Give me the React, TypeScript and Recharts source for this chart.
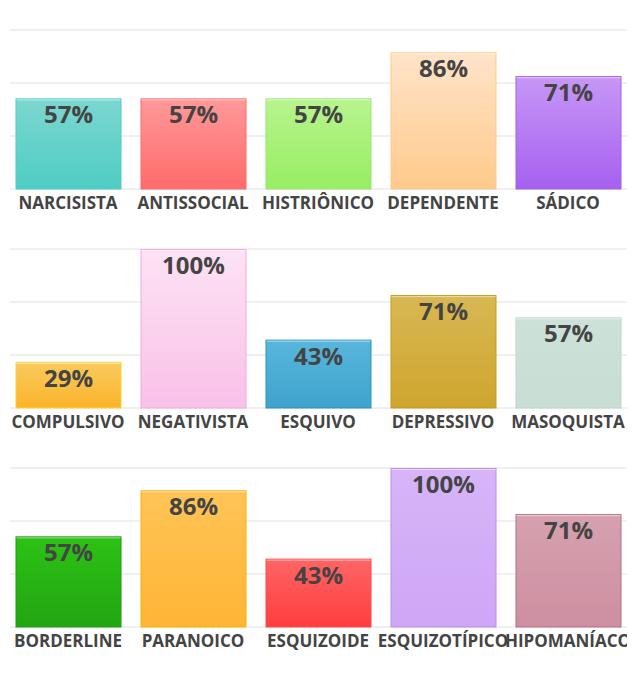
import { BarChart, Bar, XAxis, YAxis, CartesianGrid, LabelList } from "recharts";

// três blocos de transtornos, valores em %
const row1Names = ["NARCISISTA", "ANTISSOCIAL", "HISTRIÔNICO", "DEPENDENTE", "SÁDICO"];
const row1Values = [57, 57, 57, 86, 71];

const row2Names = ["COMPULSIVO", "NEGATIVISTA", "ESQUIVO", "DEPRESSIVO", "MASOQUISTA"];
const row2Values = [29, 100, 43, 71, 57];

const row3Names = ["BORDERLINE", "PARANOICO", "ESQUIZOIDE", "ESQUIZOTÍPICO", "HIPOMANÍACO"];
const row3Values = [57, 86, 43, 100, 71];

const yTicks = [0, 33.33, 66.67, 100];

// [topo, base, borda]
const row1Colors = [
  ["#7cd7d0", "#4ecdc4", "#4ecdc4"],
  ["#ff9898", "#ff6b6b", "#ff6b6b"],
  ["#b8f48e", "#97ee62", "#96e86a"],
  ["#ffe4c9", "#ffca8c", "#ffc98a"],
  ["#c797f6", "#a660f0", "#a55eea"],
];
const row2Colors = [
  ["#f9cb5e", "#fbb32b", "#fed330"],
  ["#fde2f4", "#f9c1e8", "#f7a8dc"],
  ["#58b6dc", "#3fa3cc", "#2a93c5"],
  ["#d8b853", "#cfa52e", "#c89b14"],
  ["#cce2d9", "#c8ddd4", "#b9d8c9"],
];
const row3Colors = [
  ["#2cc214", "#22a512", "#1f9c10"],
  ["#ffc457", "#ffb534", "#ffb000"],
  ["#ff6565", "#ff3d3d", "#ff4a4a"],
  ["#d7b5f8", "#cea6f6", "#c18af0"],
  ["#d6a1af", "#cd8fa1", "#b86d85"],
];

const FONT = "'Open Sans', sans-serif";

function PctLabel(props: any) {
  const { x, y, width, value } = props;
  return (
    <text
      x={x + width / 2}
      y={y + 25}
      textAnchor="middle"
      fill="#444444"
      fontFamily={FONT}
      fontWeight="bold"
      fontSize={24}
    >
      {value}%
    </text>
  );
}

function Row({ id, names, values, colors }: { id: string; names: string[]; values: number[]; colors: string[][] }) {
  const data = names.map((name, i) => ({ name, value: values[i] }));

  const shape = (p: any) => {
    const c = colors[p.index];
    return (
      <g>
        <rect
          x={p.x + 0.5}
          y={p.y + 0.5}
          width={p.width - 1}
          height={p.height - 0.5}
          fill={`url(#${id}-g${p.index})`}
          stroke={c[2]}
          strokeWidth={1}
        />
        <line
          x1={p.x + 1}
          x2={p.x + p.width - 1}
          y1={p.y + 1.5}
          y2={p.y + 1.5}
          stroke="#ffffff"
          strokeOpacity={0.55}
        />
      </g>
    );
  };

  return (
    <BarChart
      width={635}
      height={219}
      data={data}
      margin={{ top: 22, right: 8, bottom: 8, left: 10 }}
    >
      <defs>
        {colors.map((c, i) => (
          <linearGradient key={i} id={`${id}-g${i}`} x1="0" y1="0" x2="0" y2="1">
            <stop offset="0%" stopColor={c[0]} />
            <stop offset="100%" stopColor={c[1]} />
          </linearGradient>
        ))}
      </defs>
      <CartesianGrid vertical={false} stroke="#ebebeb" strokeWidth={1.5} />
      <XAxis
        dataKey="name"
        interval={0}
        axisLine={false}
        tickLine={false}
        height={30}
        padding={{ left: -4.5, right: -3.5 }}
        tick={{ fill: "#444444", fontSize: 17, fontWeight: "bold", fontFamily: FONT }}
      />
      <YAxis hide domain={[0, 100]} ticks={yTicks} />
      <Bar dataKey="value" barSize={106} shape={shape} isAnimationActive={false}>
        <LabelList dataKey="value" content={PctLabel} />
      </Bar>
    </BarChart>
  );
}

export default function App() {
  return (
    <div style={{ marginLeft: -8, width: 635, background: "#fff" }}>
      <Row id="r1" names={row1Names} values={row1Values} colors={row1Colors} />
      <Row id="r2" names={row2Names} values={row2Values} colors={row2Colors} />
      <Row id="r3" names={row3Names} values={row3Values} colors={row3Colors} />
    </div>
  );
}
